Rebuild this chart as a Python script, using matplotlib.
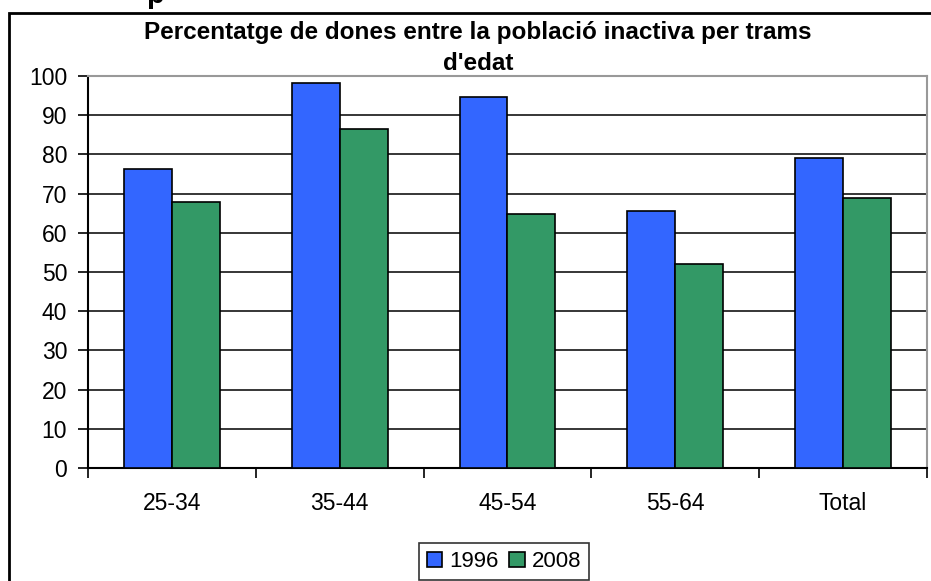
import numpy as np
import matplotlib
matplotlib.use("Agg")
import matplotlib.pyplot as plt
from matplotlib.patches import Rectangle

plt.rcParams['font.family'] = ['Liberation Sans', 'DejaVu Sans']

# data
categories = ['25-34', '35-44', '45-54', '55-64', 'Total']
years = ['1996', '2008']
vals_1996 = [76.2, 98.2, 94.6, 65.6, 79.1]
vals_2008 = [67.9, 86.4, 64.8, 52.0, 68.9]
colors = ['#3366FF', '#339966']
title = "Percentatge de dones entre la població inactiva per trams\nd'edat"

W, H = 931, 581
fig = plt.figure(figsize=(W / 100, H / 100), dpi=100)
fig.patch.set_facecolor('white')

# outer chart frame (right/bottom run off the picture)
fig.add_artist(Rectangle((9 / W, -0.1), 1.2, 1 - 13 / H + 0.1, transform=fig.transFigure,
                         facecolor='none', edgecolor='black', lw=2))
# cut-off heading fragment above the chart
fig.text(146 / W, 1 - 3 / H, 'p', fontsize=21, fontweight='bold', va='baseline', ha='left')

ax = fig.add_axes([88 / W, (H - 468) / H, 839 / W, 392 / H])
x = np.arange(len(categories))
bw = 0.285
ax.bar(x - bw / 2, vals_1996, bw, color=colors[0], edgecolor='black', lw=1.2, label=years[0], zorder=3)
ax.bar(x + bw / 2, vals_2008, bw, color=colors[1], edgecolor='black', lw=1.2, label=years[1], zorder=3)

ax.set_xlim(-0.5, len(categories) - 0.5)
ax.set_ylim(0, 100)
ax.set_yticks(np.arange(0, 101, 10))
ax.yaxis.grid(True, color='black', lw=1.1)
ax.set_axisbelow(True)
ax.tick_params(axis='y', length=7, width=1.2, labelsize=16.5, pad=8)

ax.set_xticks(x)
ax.set_xticklabels(categories)
ax.set_xticks(np.arange(-0.5, len(categories)), minor=True)
ax.tick_params(axis='x', which='major', length=0, labelsize=16.5, pad=17)
ax.tick_params(axis='x', which='minor', length=7, width=1.2)

for s in ['left', 'bottom']:
    ax.spines[s].set_linewidth(1.5)
for s in ['top', 'right']:
    ax.spines[s].set_color('#999999')
    ax.spines[s].set_linewidth(1.5)

fig.text(478 / W, 1 - 48 / H, title, ha='center', va='center', fontsize=17.5,
         fontweight='bold', linespacing=1.45)

leg = fig.legend(loc='lower center', bbox_to_anchor=(504 / W, 1 / H), ncol=2, fontsize=16,
                 frameon=True, fancybox=False, edgecolor='black', handlelength=0.7,
                 handleheight=0.7, handletextpad=0.3, columnspacing=0.5, borderpad=0.35,
                 borderaxespad=0)
leg.get_frame().set_linewidth(1.2)

fig.savefig('out.png', dpi=100)
